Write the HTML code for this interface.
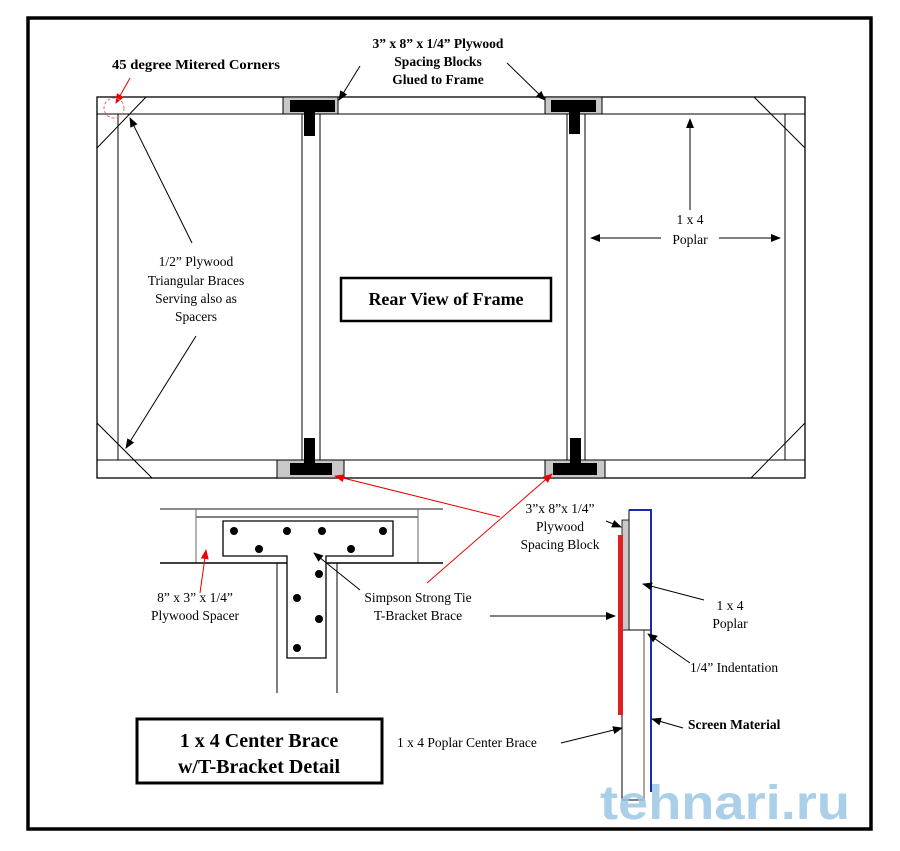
<!DOCTYPE html>
<html><head><meta charset="utf-8"><style>
html,body{margin:0;padding:0;background:#fff}
svg{display:block}
text{font-family:"Liberation Serif",serif;fill:#000}
</style></head><body>
<svg width="900" height="851" viewBox="0 0 900 851" xmlns="http://www.w3.org/2000/svg">
<defs>
<marker id="ab" markerWidth="10" markerHeight="8" refX="9" refY="4" orient="auto" markerUnits="userSpaceOnUse"><path d="M0,0 L10,4 L0,8 Z" fill="#000"/></marker>
<marker id="ar" markerWidth="10" markerHeight="8" refX="9" refY="4" orient="auto" markerUnits="userSpaceOnUse"><path d="M0,0 L10,4 L0,8 Z" fill="#e00"/></marker>
</defs>
<rect x="28" y="18" width="843" height="811" fill="none" stroke="#000" stroke-width="3.5"/>

<!-- frame -->
<rect x="97" y="97" width="708" height="381" fill="none" stroke="#000" stroke-width="1.3"/>
<line x1="97" y1="114" x2="805" y2="114" stroke="#000"/>
<line x1="97" y1="460" x2="805" y2="460" stroke="#000"/>
<line x1="118" y1="114" x2="118" y2="460" stroke="#000"/>
<line x1="785" y1="114" x2="785" y2="460" stroke="#000"/>
<line x1="146" y1="97" x2="97" y2="148" stroke="#000"/>
<line x1="754" y1="97" x2="805" y2="148" stroke="#000"/>
<line x1="97" y1="423" x2="152" y2="478" stroke="#000"/>
<line x1="805" y1="423" x2="751" y2="478" stroke="#000"/>
<!-- braces -->
<rect x="302" y="114" width="18" height="346" fill="#fff" stroke="#000"/>
<rect x="567" y="114" width="18" height="346" fill="#fff" stroke="#000"/>
<!-- top blocks -->
<rect x="283" y="97" width="55" height="17" fill="#c8c8c8" stroke="#000"/>
<rect x="290" y="100" width="45" height="12" fill="#000"/>
<rect x="304" y="112" width="11" height="24" fill="#000"/>
<rect x="545" y="97" width="57" height="17" fill="#c8c8c8" stroke="#000"/>
<rect x="551" y="100" width="45" height="12" fill="#000"/>
<rect x="569" y="112" width="11" height="22" fill="#000"/>
<!-- bottom blocks -->
<rect x="277" y="460" width="67" height="18" fill="#c8c8c8" stroke="#000"/>
<rect x="290" y="463" width="42" height="12" fill="#000"/>
<rect x="304" y="438" width="11" height="26" fill="#000"/>
<rect x="545" y="460" width="60" height="18" fill="#c8c8c8" stroke="#000"/>
<rect x="553" y="463" width="44" height="12" fill="#000"/>
<rect x="570" y="438" width="11" height="26" fill="#000"/>

<!-- top labels -->
<text x="112" y="69" font-size="13.5" font-weight="bold" textLength="168" lengthAdjust="spacingAndGlyphs">45 degree Mitered Corners</text>
<line x1="130" y1="78" x2="116" y2="103" stroke="#e00" marker-end="url(#ar)"/>
<circle cx="114" cy="108" r="10" fill="none" stroke="#e66" stroke-dasharray="3,2"/>
<g font-size="13.5" font-weight="bold" text-anchor="middle">
<text x="438" y="48">3” x 8” x 1/4” Plywood</text>
<text x="438" y="66">Spacing Blocks</text>
<text x="438" y="84">Glued to Frame</text>
</g>
<line x1="360" y1="66" x2="339" y2="100" stroke="#000" marker-end="url(#ab)"/>
<line x1="507" y1="63" x2="545" y2="100" stroke="#000" marker-end="url(#ab)"/>

<g font-size="13.5" text-anchor="middle">
<text x="196" y="266">1/2” Plywood</text>
<text x="196" y="285">Triangular Braces</text>
<text x="196" y="303">Serving also as</text>
<text x="196" y="321">Spacers</text>
<text x="690" y="224">1 x 4</text>
<text x="690" y="244">Poplar</text>
</g>
<line x1="192" y1="243" x2="130" y2="118" stroke="#000" marker-end="url(#ab)"/>
<line x1="196" y1="336" x2="126" y2="448" stroke="#000" marker-end="url(#ab)"/>
<line x1="690" y1="210" x2="690" y2="119" stroke="#000" marker-end="url(#ab)"/>
<line x1="661" y1="238" x2="591" y2="238" stroke="#000" marker-end="url(#ab)"/>
<line x1="719" y1="238" x2="780" y2="238" stroke="#000" marker-end="url(#ab)"/>

<rect x="341" y="278" width="210" height="43" fill="#fff" stroke="#000" stroke-width="2.5"/>
<text x="446" y="305" font-size="18" font-weight="bold" text-anchor="middle">Rear View of Frame</text>

<!-- T bracket detail -->
<line x1="160" y1="509" x2="443" y2="509" stroke="#666" stroke-width="1.5"/>
<line x1="196" y1="517" x2="418" y2="517" stroke="#000"/>
<line x1="196" y1="509" x2="196" y2="563" stroke="#666"/>
<line x1="418" y1="509" x2="418" y2="563" stroke="#666"/>
<line x1="160" y1="563" x2="443" y2="563" stroke="#000" stroke-width="1.5"/>
<line x1="277" y1="563" x2="277" y2="693" stroke="#000"/>
<line x1="337" y1="563" x2="337" y2="693" stroke="#000"/>
<path d="M223,521 H393 V556 H326 V658 H287 V556 H223 Z" fill="#fff" stroke="#000" stroke-width="1.3"/>
<g fill="#000">
<circle cx="234" cy="531" r="4"/><circle cx="287" cy="531" r="4"/><circle cx="322" cy="531" r="4"/><circle cx="383" cy="531" r="4"/>
<circle cx="259" cy="549" r="4"/><circle cx="351" cy="549" r="4"/><circle cx="319" cy="574" r="4"/><circle cx="297" cy="598" r="4"/>
<circle cx="319" cy="619" r="4"/><circle cx="297" cy="648" r="4"/>
</g>
<line x1="200" y1="593" x2="206" y2="550" stroke="#e00" marker-end="url(#ar)"/>
<g font-size="13.5" text-anchor="middle">
<text x="195" y="602">8” x 3” x 1/4”</text>
<text x="195" y="620">Plywood Spacer</text>
<text x="418" y="602">Simpson Strong Tie</text>
<text x="418" y="620">T-Bracket Brace</text>
</g>
<line x1="360" y1="590" x2="314" y2="553" stroke="#000" marker-end="url(#ab)"/>
<line x1="427" y1="583" x2="552" y2="474" stroke="#e00" marker-end="url(#ar)"/>
<line x1="500" y1="517" x2="335" y2="476" stroke="#e00" marker-end="url(#ar)"/>
<line x1="490" y1="616" x2="615" y2="616" stroke="#000" marker-end="url(#ab)"/>

<!-- side detail -->
<rect x="622" y="630" width="22" height="170" fill="#fff" stroke="#000"/>
<line x1="644" y1="630" x2="644" y2="800" stroke="#888" stroke-width="1.5"/>
<rect x="629" y="510" width="22" height="120" fill="#fff" stroke="#000"/>
<path d="M629,510 H651 V792" fill="none" stroke="#1a2aa8" stroke-width="2"/>
<line x1="651" y1="630" x2="651" y2="792" stroke="#1a2aa8" stroke-width="2"/>
<rect x="622" y="520" width="7" height="110" fill="#c8c8c8" stroke="#000" stroke-width="0.8"/>
<rect x="618" y="535" width="5" height="180" fill="#e02020"/>
<g font-size="13.5" text-anchor="middle">
<text x="560" y="513">3”x 8”x 1/4”</text>
<text x="560" y="531">Plywood</text>
<text x="560" y="549">Spacing Block</text>
<text x="730" y="610">1 x 4</text>
<text x="730" y="628">Poplar</text>
</g>
<g font-size="13.5">
<text x="690" y="672">1/4” Indentation</text>
<text x="688" y="729" font-weight="bold">Screen Material</text>
<text x="397" y="747">1 x 4 Poplar Center Brace</text>
</g>
<line x1="606" y1="521" x2="621" y2="527" stroke="#000" marker-end="url(#ab)"/>
<line x1="704" y1="600" x2="643" y2="584" stroke="#000" marker-end="url(#ab)"/>
<line x1="690" y1="663" x2="648" y2="634" stroke="#000" marker-end="url(#ab)"/>
<line x1="683" y1="728" x2="652" y2="719" stroke="#000" marker-end="url(#ab)"/>
<line x1="561" y1="743" x2="622" y2="728" stroke="#000" marker-end="url(#ab)"/>

<rect x="137" y="719" width="245" height="64" fill="#fff" stroke="#000" stroke-width="3"/>
<text x="259" y="747" font-size="20" font-weight="bold" text-anchor="middle">1 x 4 Center Brace</text>
<text x="259" y="773" font-size="20" font-weight="bold" text-anchor="middle">w/T-Bracket Detail</text>

<text x="600" y="819" font-size="48" font-weight="bold" style="font-family:'Liberation Sans',sans-serif;fill:#9cc8e6;opacity:0.85" textLength="250" lengthAdjust="spacingAndGlyphs">tehnari.ru</text>
</svg>
</body></html>
